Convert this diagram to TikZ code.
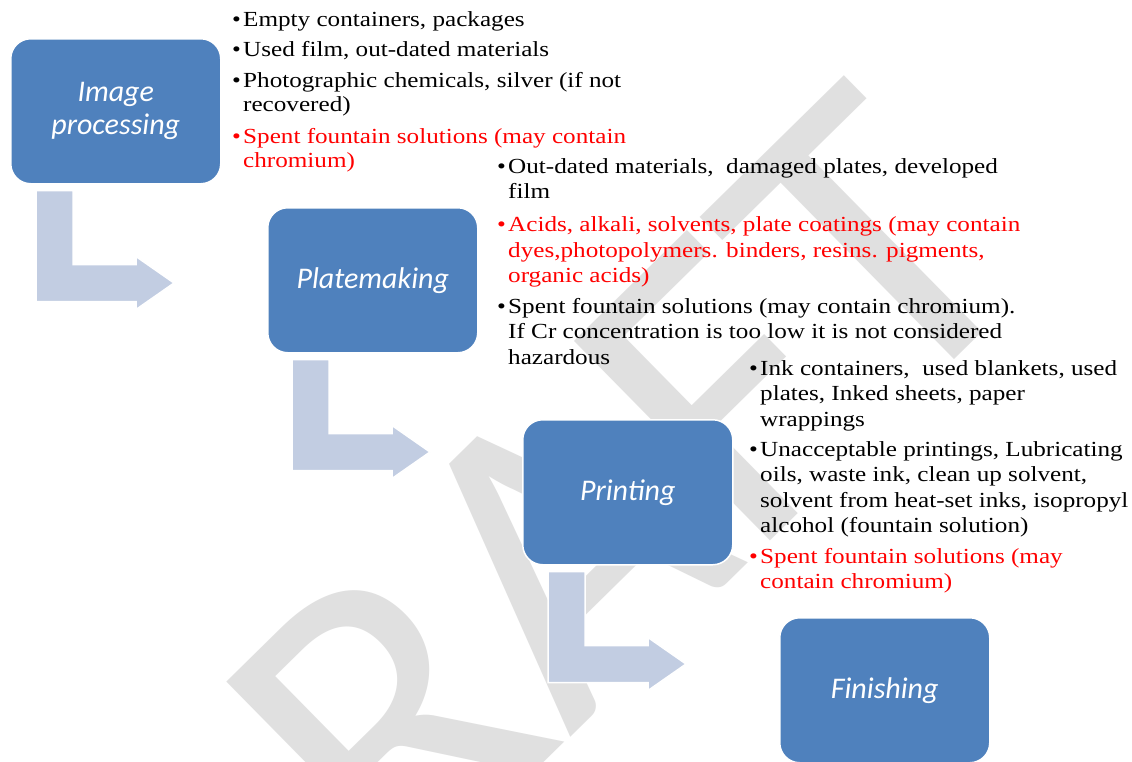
\documentclass[tikz,border=0pt]{standalone}
\usepackage{fontspec}
\setmainfont{Liberation Serif}[FakeStretch=1.17]
\newfontfamily\boxfont{Carlito}
\usetikzlibrary{calc}
\definecolor{boxblue}{RGB}{79,129,189}
\definecolor{arrowblue}{RGB}{194,205,226}
\definecolor{wmgray}{RGB}{224,224,224}
\definecolor{itemred}{RGB}{255,0,0}
\newcommand{\bentshape}{(0,0) -- (37,0) -- (37,74) -- (100,74) -- (100,66) -- (138,92.5) -- (100,119) -- (100,111) -- (0,111) -- cycle}
\begin{document}
\begin{tikzpicture}[x=1pt,y=-1pt,
  stage/.style={rectangle, rounded corners=20pt, fill=boxblue, draw=white, line width=1.5pt,
    minimum width=210pt, minimum height=145pt, inner sep=0pt, text=white,
    font=\boxfont\itshape\fontsize{30}{33}\selectfont, align=center, anchor=north west},
  item/.style={anchor=base west, inner sep=0pt, align=left, font=\fontsize{21.5}{25.5}\selectfont},
  itemtight/.style={item, font=\fontsize{21.5}{24}\selectfont},
  bul/.style={anchor=base west, inner sep=0pt, font=\fontsize{21.5}{25.5}\selectfont},
  bent/.style={fill=arrowblue, draw=white, line width=1.5pt}]
\useasboundingbox (0,0) rectangle (1132,761);
\fill[white] (0,0) rectangle (1132,761);
% watermark
\node[text=wmgray, rotate=44.5, anchor=base west, inner sep=0pt,
  font=\boxfont\fontsize{436}{436}\selectfont] (wm) at (209,1092) {DRAFT};
% stages
\node[stage] (ip) at (10,38) {\raisebox{-2pt}{Image}\\\raisebox{-2pt}{processing}};
\node[stage] (pm) at (267,207) {Platemaking};
\node[stage] (pr) at (522,419) {Printing};
\node[stage] (fi) at (779,617) {Finishing};
% bent arrows
\begin{scope}[shift={($(ip.south west)+(26,6)$)}]
  \path[bent] \bentshape;
\end{scope}
\begin{scope}[shift={($(pm.south west)+(25,6)$)}]
  \path[bent] \bentshape;
\end{scope}
\begin{scope}[shift={($(pr.south west)+(26,6)$)}]
  \path[bent] \bentshape;
\end{scope}
% block 1 (node placed at the baseline of its last line)
\node[bul] (b1a) at (232,26.7) {•};
\node[itemtight] (t1a) at (243,26.7) {Empty containers, packages};
\node[bul] (b1b) at (232,56.7) {•};
\node[itemtight] (t1b) at (243,56.7) {Used film, out-dated materials};
\node[bul] (b1c) at (232,87.3) {•};
\node[itemtight] (t1c) at (243,111.3) {Photographic chemicals, silver (if not\\recovered)};
\node[bul, text=itemred] (b1d) at (232,143.3) {•};
\node[itemtight, text=itemred] (t1d) at (243,167.3) {Spent fountain solutions (may contain\\chromium)};
% block 2
\node[bul] (b2a) at (497,173.3) {•};
\node[item] (t2a) at (508,198.8) {Out-dated materials,\ \ damaged plates, developed\\film};
\node[bul, text=itemred] (b2b) at (497,231.7) {•};
\node[item, text=itemred] (t2b) at (508,282.7) {Acids, alkali, solvents, plate coatings (may contain\\dyes,photopolymers. binders, resins. pigments,\\organic acids)};
\node[bul] (b2c) at (497,313.3) {•};
\node[item] (t2c) at (508,364.3) {Spent fountain solutions (may contain chromium).\\If Cr concentration is too low it is not considered\\hazardous};
% block 3
\node[bul] (b3a) at (749,375) {•};
\node[item] (t3a) at (760,426) {Ink containers,\ \ used blankets, used\\plates, Inked sheets, paper\\wrappings};
\node[bul] (b3b) at (749,456) {•};
\node[item] (t3b) at (760,532.5) {Unacceptable printings, Lubricating\\oils, waste ink, clean up solvent,\\solvent from heat-set inks, isopropyl\\alcohol (fountain solution)};
\node[bul, text=itemred] (b3c) at (749,563.3) {•};
\node[item, text=itemred] (t3c) at (760,588.8) {Spent fountain solutions (may\\contain chromium)};
\end{tikzpicture}
\end{document}
